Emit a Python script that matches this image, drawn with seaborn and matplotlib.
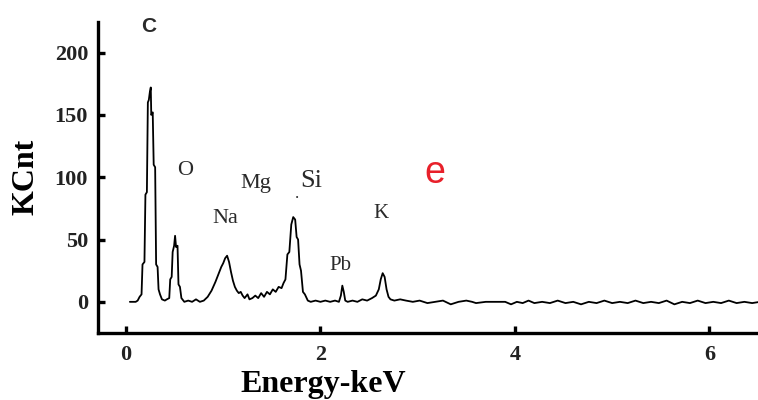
import numpy as np
import pandas as pd
import matplotlib
matplotlib.use("Agg")
import matplotlib.pyplot as plt
import seaborn as sns

# EDS spectrum (energy in keV, counts in KCnt)
energy_kev = [0.04, 0.10, 0.12, 0.14, 0.16, 0.17, 0.19, 0.20, 0.215, 0.225,
              0.235, 0.245, 0.255, 0.26, 0.275, 0.285, 0.30, 0.31, 0.325, 0.335,
              0.35, 0.37, 0.40, 0.42, 0.445, 0.455, 0.47, 0.48, 0.495, 0.505,
              0.515, 0.53, 0.54, 0.555, 0.57, 0.60, 0.64, 0.68, 0.72, 0.76,
              0.80, 0.84, 0.88, 0.92, 0.95, 0.98, 1.00, 1.02, 1.04, 1.06,
              1.08, 1.10, 1.12, 1.14, 1.16, 1.18, 1.20, 1.22, 1.25, 1.27,
              1.30, 1.33, 1.36, 1.39, 1.42, 1.45, 1.48, 1.51, 1.54, 1.57,
              1.60, 1.62, 1.64, 1.66, 1.68, 1.70, 1.72, 1.74, 1.755, 1.77,
              1.785, 1.80, 1.82, 1.84, 1.87, 1.90, 1.95, 2.00, 2.05, 2.10,
              2.15, 2.19, 2.21, 2.225, 2.24, 2.255, 2.28, 2.33, 2.38, 2.43,
              2.48, 2.53, 2.57, 2.60, 2.62, 2.64, 2.66, 2.68, 2.70, 2.72,
              2.76, 2.82, 2.88, 2.95, 3.02, 3.10, 3.18, 3.26, 3.34, 3.42,
              3.50, 3.56, 3.60, 3.70, 3.80, 3.90, 3.96, 4.02, 4.08, 4.14,
              4.20, 4.28, 4.36, 4.44, 4.52, 4.60, 4.68, 4.76, 4.84, 4.92,
              5.00, 5.08, 5.16, 5.24, 5.32, 5.40, 5.48, 5.56, 5.64, 5.72,
              5.80, 5.88, 5.96, 6.04, 6.12, 6.20, 6.28, 6.36, 6.44, 6.52]
kcnt = [0, 0, 1, 4, 6, 30, 32, 86, 88, 160,
        162, 168, 172, 150, 152, 110, 108, 30, 28, 10,
        6, 2, 1, 2, 3, 18, 20, 40, 45, 53,
        44, 45, 14, 12, 3, 0, 1, 0, 2, 0,
        1, 4, 9, 16, 22, 28, 31, 35, 37, 32,
        24, 17, 12, 9, 7, 8, 5, 3, 6, 2,
        3, 5, 3, 7, 4, 8, 6, 10, 8, 12,
        11, 15, 18, 38, 40, 62, 68, 66, 52, 50,
        30, 25, 8, 6, 1, 0, 1, 0, 1, 0,
        1, 0, 5, 13, 8, 1, 0, 1, 0, 2,
        1, 3, 5, 10, 18, 23, 20, 10, 4, 2,
        1, 2, 1, 0, 1, -1, 0, 1, -2, 0,
        1, 0, -1, 0, 0, 0, -2, 0, -1, 1,
        -1, 0, -1, 1, -1, 0, -2, 0, -1, 1,
        -1, 0, -1, 1, -1, 0, -1, 1, -2, 0,
        -1, 1, -1, 0, -1, 1, -1, 0, -1, 0]

# element labels and where they sit (keV, KCnt)
elements = ["C", "O", "Mg", "Si", "Na", "Pb", "K"]
label_x = [0.23, 0.61, 1.34, 1.91, 1.02, 2.21, 2.62]
label_y = [221, 105, 95, 97, 67, 29, 71]
label_size = [15, 16, 16, 19, 16, 15, 15]

df = pd.DataFrame({"Energy": energy_kev, "KCnt": kcnt})

sns.set_theme(style="ticks")
plt.rcParams["font.family"] = ["Liberation Serif", "DejaVu Serif"]

fig = plt.figure(figsize=(7.58, 4.0), dpi=100)
ax = fig.add_axes([0.129, 0.1675, 0.871, 0.7775])

sns.lineplot(data=df, x="Energy", y="KCnt", sort=False, color="black",
             linewidth=1.3, ax=ax)

ax.set_xlim(-0.29, 6.5)
ax.set_ylim(-25, 224.5)
ax.set_xticks([0, 2, 4, 6])
ax.set_yticks([0, 50, 100, 150, 200])
ax.set_xlabel("")
ax.set_ylabel("")

sns.despine(ax=ax)
for side in ["left", "bottom"]:
    ax.spines[side].set_linewidth(2.4)
    ax.spines[side].set_color("black")
ax.tick_params(axis="both", direction="in", length=5, width=2.4,
               colors="black", labelcolor="#222222", labelsize=16)
ax.tick_params(axis="x", pad=9)
ax.tick_params(axis="y", pad=7)
for lab in ax.get_xticklabels() + ax.get_yticklabels():
    lab.set_fontweight("bold")

for name, x, y, s in zip(elements, label_x, label_y, label_size):
    fam = ["Liberation Sans"] if name == "C" else ["Liberation Serif"]
    w = "bold" if name == "C" else "normal"
    ax.text(x, y, name, fontsize=s, family=fam, fontweight=w,
            color="#2a2a2a", ha="center", va="center")

# small dot over the Si peak and the panel letter
ax.text(1.76, 80, ".", fontsize=12, color="#2a2a2a", ha="center", va="bottom")
ax.text(3.18, 103, "e", fontsize=27, family=["Liberation Sans"],
        color="#e8202a", ha="center", va="center")

fig.text(0.034, 0.5575, "KCnt", rotation=90, fontsize=23, fontweight="bold",
         ha="center", va="center", color="black")
fig.text(323 / 758, 0.002, "Energy-keV", fontsize=23, fontweight="bold",
         ha="center", va="bottom", color="black")

fig.savefig("out.png", dpi=100)
